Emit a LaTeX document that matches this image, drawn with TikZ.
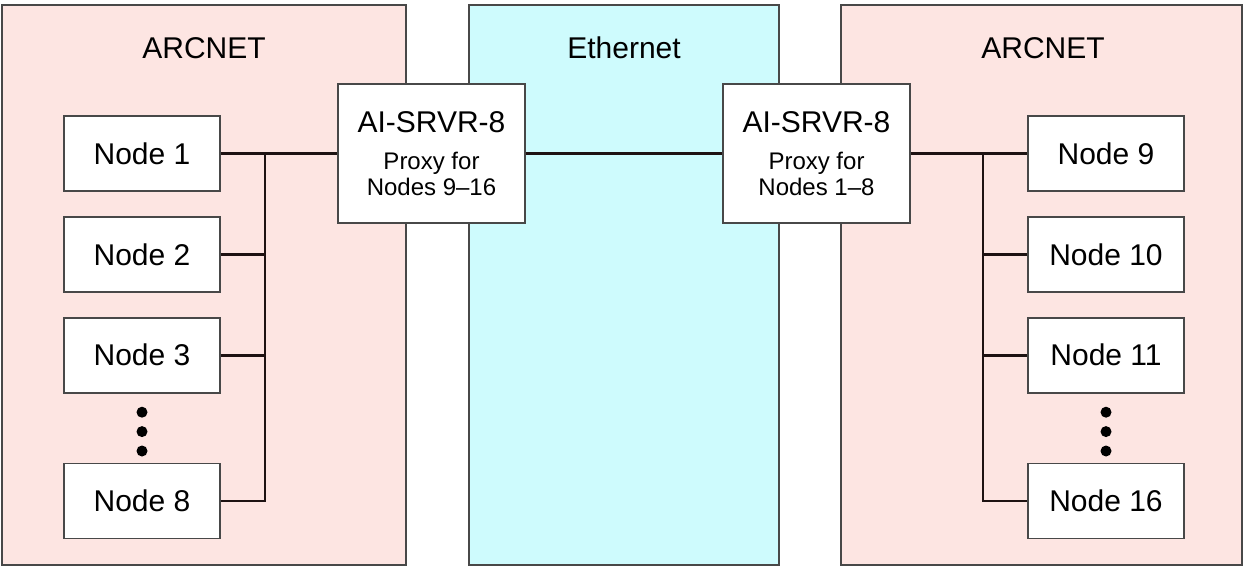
\documentclass[tikz,border=0pt]{standalone}
\usepackage{fontspec}
\setmainfont{Liberation Sans}
\usetikzlibrary{positioning, calc}
\definecolor{arcnetPink}{RGB}{253, 229, 226}
\definecolor{etherCyan}{RGB}{206, 251, 253}
\definecolor{edgeGray}{RGB}{72, 72, 72}
\definecolor{wireDark}{RGB}{30, 18, 18}
\begin{document}
\begin{tikzpicture}[
        x=1pt, y=1pt,
        panel/.style={draw=edgeGray, line width=2pt},
        title/.style={font=\fontsize{30}{36}\selectfont},
        box/.style={rectangle, draw=edgeGray, fill=white, line width=1.8pt, minimum width=156pt, minimum height=75pt, inner sep=0pt, align=center, font=\fontsize{30}{36}\selectfont},
        proxy/.style={box, minimum width=187pt, minimum height=139pt, font=\fontsize{24}{26}\selectfont},
        dot/.style={circle, fill=black, inner sep=0pt, minimum size=11pt},
        bus/.style={line width=2.8pt, wireDark}
    ]
        \useasboundingbox (0,0) rectangle (1246,568);

        % Networks
        \fill[white] (0,0) rectangle (1246,568);
        \draw[panel, fill=arcnetPink] (2,3) rectangle (406,563);
        \draw[panel, fill=etherCyan] (469,3) rectangle (779,563);
        \draw[panel, fill=arcnetPink] (841,3) rectangle (1242,563);
        \node[title] (arcl) at (204,520) {ARCNET};
        \node[title] (eth) at (624,520) {Ethernet};
        \node[title] (arcr) at (1043,520) {ARCNET};

        % Proxies
        \node[proxy] (pl) at (431.5,414.5) {{\fontsize{30}{36}\selectfont AI-SRVR-8}\\[11pt]Proxy for\\Nodes 9–16};
        \node[proxy] (pr) at (816.5,414.5) {{\fontsize{30}{36}\selectfont AI-SRVR-8}\\[11pt]Proxy for\\Nodes 1–8};

        % Left ARCNET nodes
        \node[box] (n1) at (142,414.5) {Node 1};
        \node[box, below=24pt of n1] (n2) {Node 2};
        \node[box, below=24pt of n2] (n3) {Node 3};
        \node[box] (n8) at (142,67) {Node 8};
        \node[dot, below=13pt of n3] (dl1) {};
        \node[dot, below=8pt of dl1] (dl2) {};
        \node[dot, below=8pt of dl2] (dl3) {};

        % Right ARCNET nodes
        \node[box] (n9) at (1106,414.5) {Node 9};
        \node[box, below=24pt of n9] (n10) {Node 10};
        \node[box, below=24pt of n10] (n11) {Node 11};
        \node[box] (n16) at (1106,67) {Node 16};
        \node[dot, below=13pt of n11] (dr1) {};
        \node[dot, below=8pt of dr1] (dr2) {};
        \node[dot, below=8pt of dr2] (dr3) {};

        % Wiring
        \coordinate (busl) at (265,414.5);
        \coordinate (busr) at (983,414.5);
        \draw[bus] (n1) -- (pl);
        \draw[bus] (pl) -- (pr);
        \draw[bus] (pr) -- (n9);
        \draw[bus] (n8.east) -| (busl);
        \draw[bus] (n2.east) -- (n2.east -| busl);
        \draw[bus] (n3.east) -- (n3.east -| busl);
        \draw[bus] (n16.west) -| (busr);
        \draw[bus] (n10.west) -- (n10.west -| busr);
        \draw[bus] (n11.west) -- (n11.west -| busr);
    \end{tikzpicture}
\end{document}
